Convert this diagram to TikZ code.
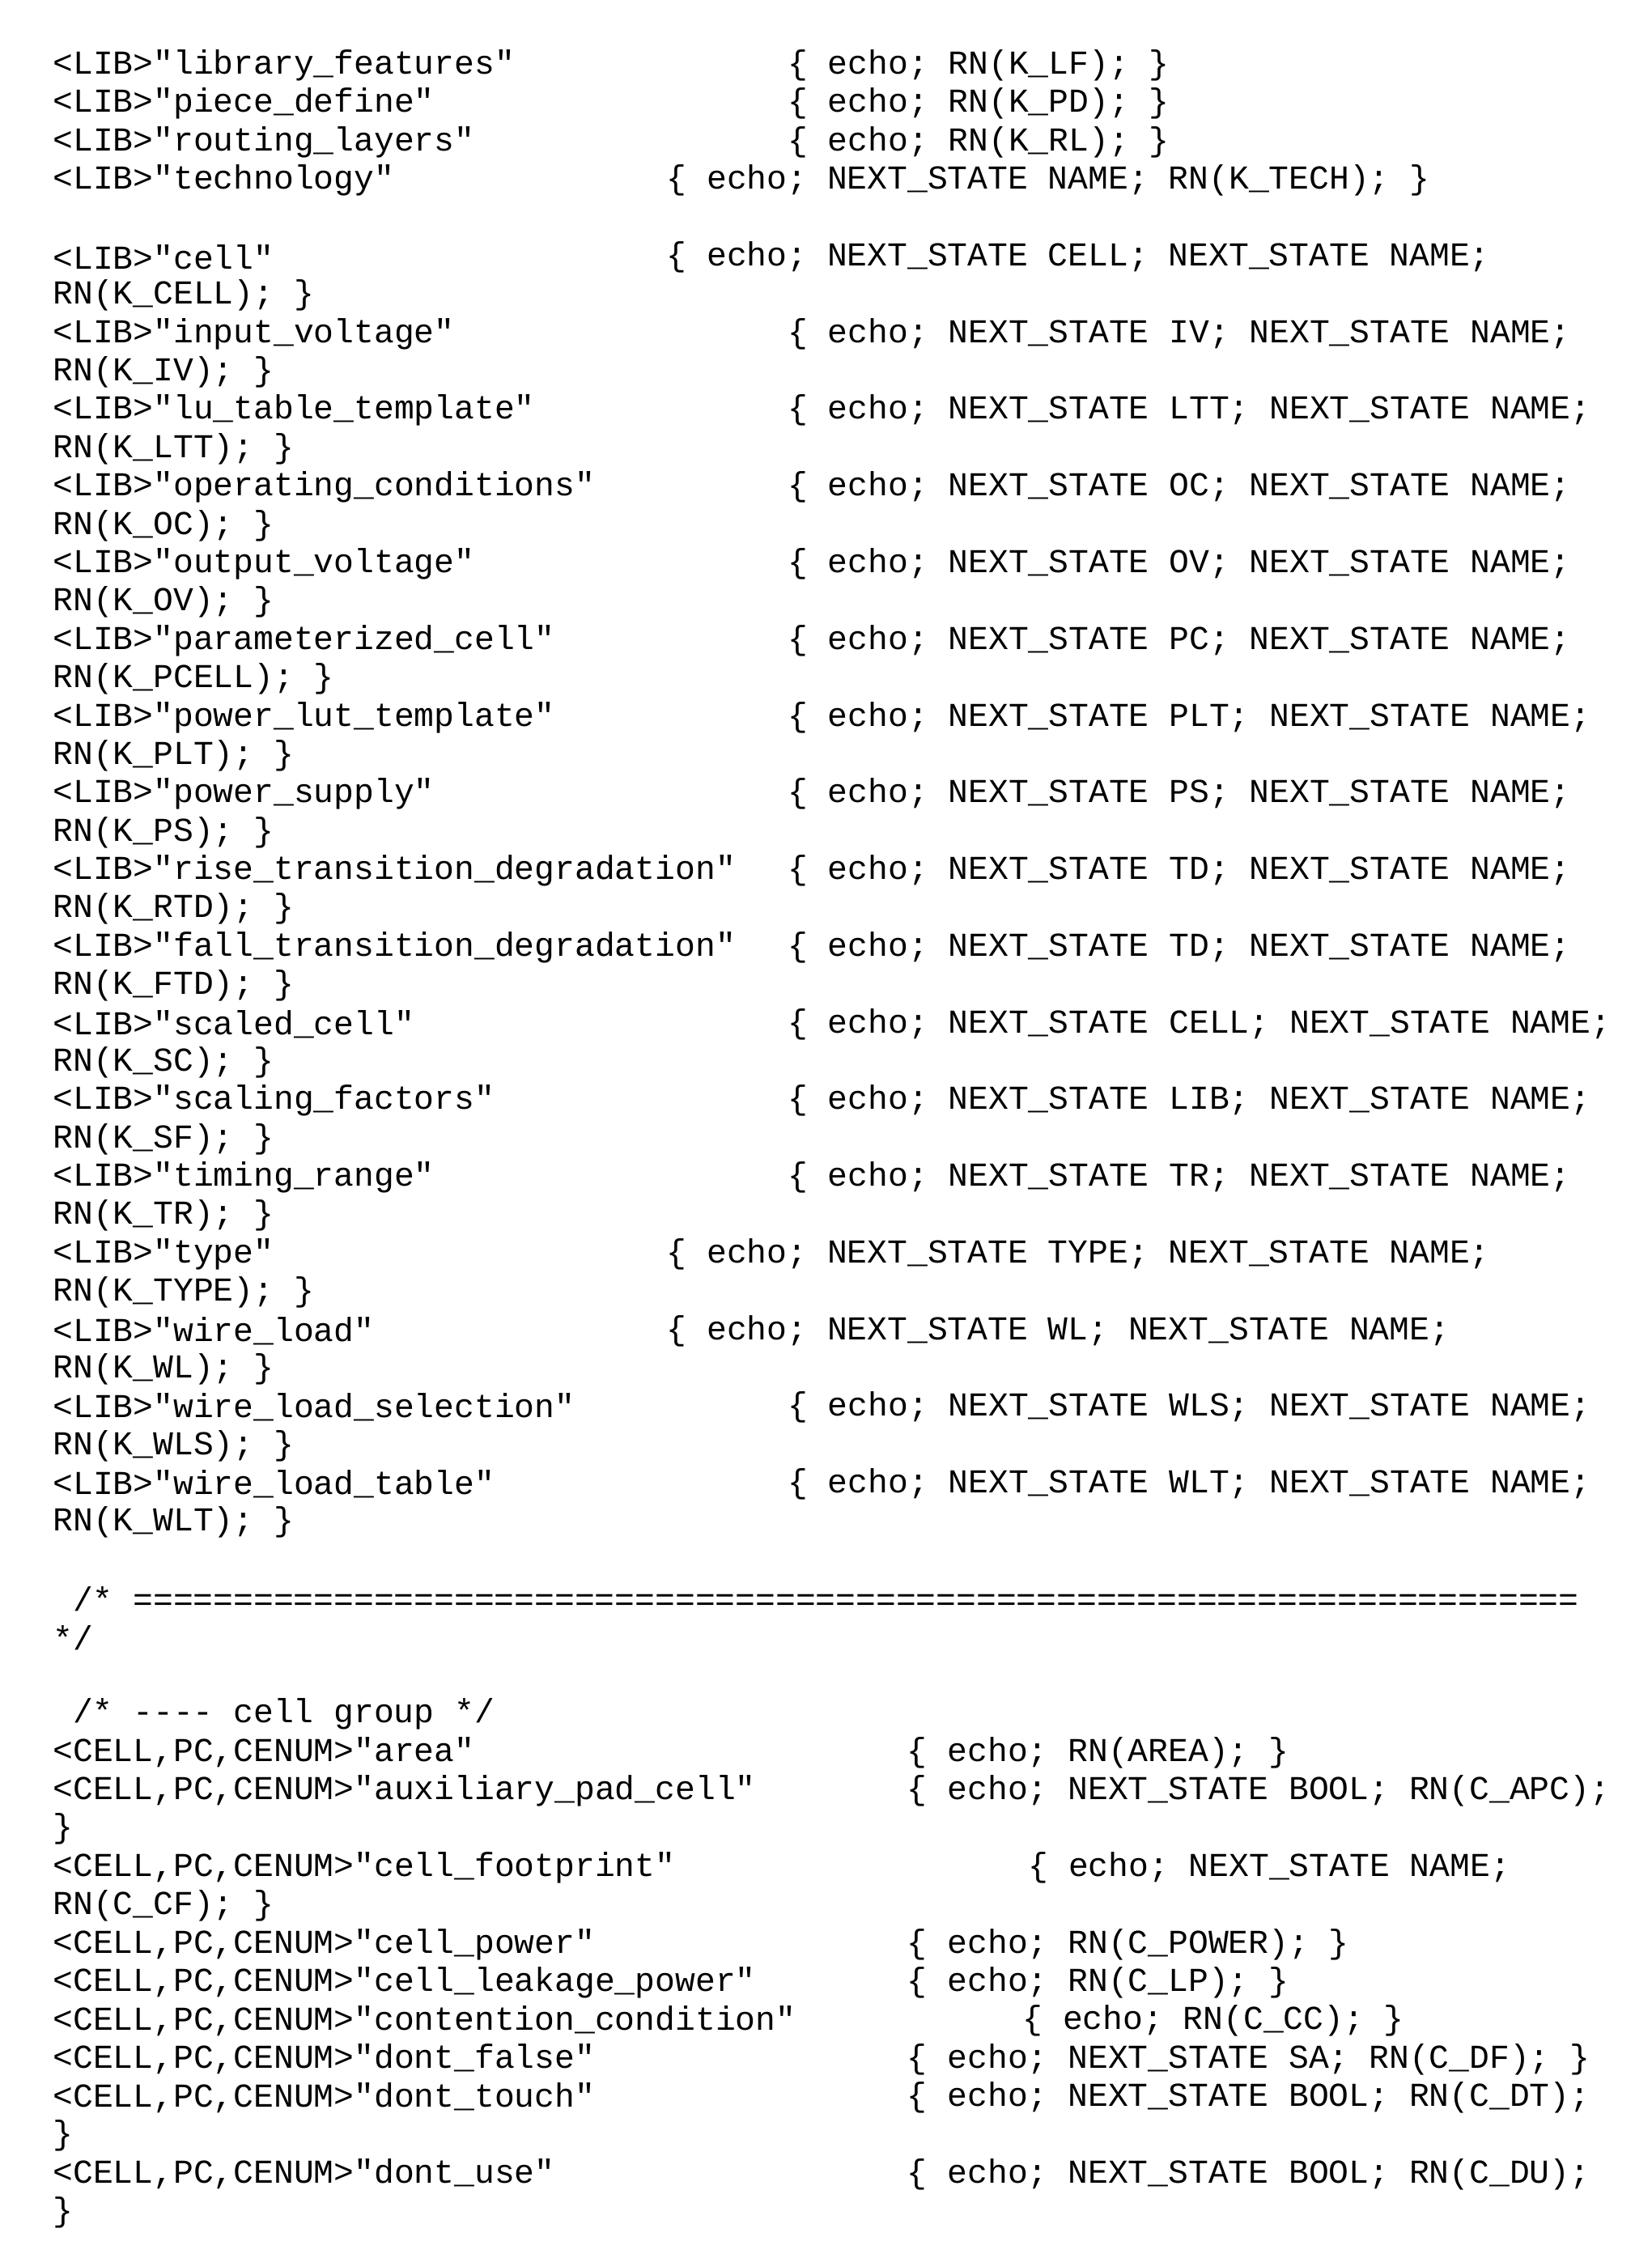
\documentclass[tikz,border=0pt]{standalone}
\usepackage{fontspec}
\setmonofont{Liberation Mono}
\newcommand\cl[4]{\node[txt] (#1) at (#2,{-(46+26.93*(#3-1))}) {#4};}
\begin{document}
\begin{tikzpicture}[x=1pt,y=1pt,txt/.style={anchor=west,inner sep=0pt,font=\fontsize{23.5}{26}\selectfont\ttfamily}]
\useasboundingbox (0,0) rectangle (1160,-1574);
\cl{a1}{37}{1}{<LIB>"library\_features"}
\cl{b1}{553}{1}{\{ echo; RN(K\_LF); \}}
\cl{a2}{37}{2}{<LIB>"piece\_define"}
\cl{b2}{553}{2}{\{ echo; RN(K\_PD); \}}
\cl{a3}{37}{3}{<LIB>"routing\_layers"}
\cl{b3}{553}{3}{\{ echo; RN(K\_RL); \}}
\cl{a4}{37}{4}{<LIB>"technology"}
\cl{b4}{468}{4}{\{ echo; NEXT\_STATE NAME; RN(K\_TECH); \}}
\cl{a5}{37}{6}{<LIB>"cell"}
\cl{b5}{468}{6}{\{ echo; NEXT\_STATE CELL; NEXT\_STATE NAME;}
\cl{c5}{37}{7}{RN(K\_CELL); \}}
\cl{a6}{37}{8}{<LIB>"input\_voltage"}
\cl{b6}{553}{8}{\{ echo; NEXT\_STATE IV; NEXT\_STATE NAME;}
\cl{c6}{37}{9}{RN(K\_IV); \}}
\cl{a7}{37}{10}{<LIB>"lu\_table\_template"}
\cl{b7}{553}{10}{\{ echo; NEXT\_STATE LTT; NEXT\_STATE NAME;}
\cl{c7}{37}{11}{RN(K\_LTT); \}}
\cl{a8}{37}{12}{<LIB>"operating\_conditions"}
\cl{b8}{553}{12}{\{ echo; NEXT\_STATE OC; NEXT\_STATE NAME;}
\cl{c8}{37}{13}{RN(K\_OC); \}}
\cl{a9}{37}{14}{<LIB>"output\_voltage"}
\cl{b9}{553}{14}{\{ echo; NEXT\_STATE OV; NEXT\_STATE NAME;}
\cl{c9}{37}{15}{RN(K\_OV); \}}
\cl{a10}{37}{16}{<LIB>"parameterized\_cell"}
\cl{b10}{553}{16}{\{ echo; NEXT\_STATE PC; NEXT\_STATE NAME;}
\cl{c10}{37}{17}{RN(K\_PCELL); \}}
\cl{a11}{37}{18}{<LIB>"power\_lut\_template"}
\cl{b11}{553}{18}{\{ echo; NEXT\_STATE PLT; NEXT\_STATE NAME;}
\cl{c11}{37}{19}{RN(K\_PLT); \}}
\cl{a12}{37}{20}{<LIB>"power\_supply"}
\cl{b12}{553}{20}{\{ echo; NEXT\_STATE PS; NEXT\_STATE NAME;}
\cl{c12}{37}{21}{RN(K\_PS); \}}
\cl{a13}{37}{22}{<LIB>"rise\_transition\_degradation"}
\cl{b13}{553}{22}{\{ echo; NEXT\_STATE TD; NEXT\_STATE NAME;}
\cl{c13}{37}{23}{RN(K\_RTD); \}}
\cl{a14}{37}{24}{<LIB>"fall\_transition\_degradation"}
\cl{b14}{553}{24}{\{ echo; NEXT\_STATE TD; NEXT\_STATE NAME;}
\cl{c14}{37}{25}{RN(K\_FTD); \}}
\cl{a15}{37}{26}{<LIB>"scaled\_cell"}
\cl{b15}{553}{26}{\{ echo; NEXT\_STATE CELL; NEXT\_STATE NAME;}
\cl{c15}{37}{27}{RN(K\_SC); \}}
\cl{a16}{37}{28}{<LIB>"scaling\_factors"}
\cl{b16}{553}{28}{\{ echo; NEXT\_STATE LIB; NEXT\_STATE NAME;}
\cl{c16}{37}{29}{RN(K\_SF); \}}
\cl{a17}{37}{30}{<LIB>"timing\_range"}
\cl{b17}{553}{30}{\{ echo; NEXT\_STATE TR; NEXT\_STATE NAME;}
\cl{c17}{37}{31}{RN(K\_TR); \}}
\cl{a18}{37}{32}{<LIB>"type"}
\cl{b18}{468}{32}{\{ echo; NEXT\_STATE TYPE; NEXT\_STATE NAME;}
\cl{c18}{37}{33}{RN(K\_TYPE); \}}
\cl{a19}{37}{34}{<LIB>"wire\_load"}
\cl{b19}{468}{34}{\{ echo; NEXT\_STATE WL; NEXT\_STATE NAME;}
\cl{c19}{37}{35}{RN(K\_WL); \}}
\cl{a20}{37}{36}{<LIB>"wire\_load\_selection"}
\cl{b20}{553}{36}{\{ echo; NEXT\_STATE WLS; NEXT\_STATE NAME;}
\cl{c20}{37}{37}{RN(K\_WLS); \}}
\cl{a21}{37}{38}{<LIB>"wire\_load\_table"}
\cl{b21}{553}{38}{\{ echo; NEXT\_STATE WLT; NEXT\_STATE NAME;}
\cl{c21}{37}{39}{RN(K\_WLT); \}}
\cl{s1}{51}{41}{/* ========================================================================}
\cl{s2}{37}{42}{*/}
\cl{s3}{51}{44}{/* ---- cell group */}
\cl{d1}{37}{45}{<CELL,PC,CENUM>"area"}
\cl{e1}{637}{45}{\{ echo; RN(AREA); \}}
\cl{d2}{37}{46}{<CELL,PC,CENUM>"auxiliary\_pad\_cell"}
\cl{e2}{637}{46}{\{ echo; NEXT\_STATE BOOL; RN(C\_APC);}
\cl{f2}{37}{47}{\}}
\cl{d3}{37}{48}{<CELL,PC,CENUM>"cell\_footprint"}
\cl{e3}{722}{48}{\{ echo; NEXT\_STATE NAME;}
\cl{f3}{37}{49}{RN(C\_CF); \}}
\cl{d4}{37}{50}{<CELL,PC,CENUM>"cell\_power"}
\cl{e4}{637}{50}{\{ echo; RN(C\_POWER); \}}
\cl{d5}{37}{51}{<CELL,PC,CENUM>"cell\_leakage\_power"}
\cl{e5}{637}{51}{\{ echo; RN(C\_LP); \}}
\cl{d6}{37}{52}{<CELL,PC,CENUM>"contention\_condition"}
\cl{e6}{718}{52}{\{ echo; RN(C\_CC); \}}
\cl{d7}{37}{53}{<CELL,PC,CENUM>"dont\_false"}
\cl{e7}{637}{53}{\{ echo; NEXT\_STATE SA; RN(C\_DF); \}}
\cl{d8}{37}{54}{<CELL,PC,CENUM>"dont\_touch"}
\cl{e8}{637}{54}{\{ echo; NEXT\_STATE BOOL; RN(C\_DT);}
\cl{f8}{37}{55}{\}}
\cl{d9}{37}{56}{<CELL,PC,CENUM>"dont\_use"}
\cl{e9}{637}{56}{\{ echo; NEXT\_STATE BOOL; RN(C\_DU);}
\cl{f9}{37}{57}{\}}
\end{tikzpicture}
\end{document}
